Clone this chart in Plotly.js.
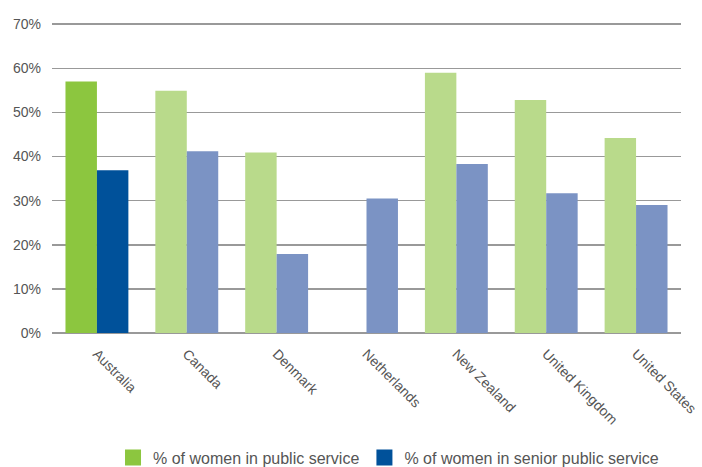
<!DOCTYPE html>
<html>
<head>
<meta charset="utf-8">
<script src="https://cdn.plot.ly/plotly-3.0.1.min.js"></script>
<style>
html,body{margin:0;padding:0;background:#fff;}
#chart{width:702px;height:467px;}
</style>
</head>
<body>
<div id="chart"></div>
<script>
const countries = ["Australia","Canada","Denmark","Netherlands","New Zealand","United Kingdom","United States"];
const publicService = [57, 54.9, 40.9, null, 59, 52.8, 44.2];
const seniorPublicService = [36.9, 41.2, 17.9, 30.5, 38.3, 31.7, 29.0];
const yTickVals = [0,10,20,30,40,50,60,70];
const yTickText = ["0%","10%","20%","30%","40%","50%","60%","70%"];
const seriesNames = ["% of women in public service","% of women in senior public service"];
const legendColors = ["#8cc63f","#00519a"];

const greenColors = countries.map((c,i)=> i===0 ? "#8cc63f" : "#b9da8b");
const blueColors = countries.map((c,i)=> i===0 ? "#00519a" : "#7b93c4");

const traces = [
  {type:"bar", x:countries, y:publicService, name:seriesNames[0], marker:{color:greenColors}, hoverinfo:"skip", showlegend:false},
  {type:"bar", x:countries, y:seniorPublicService, name:seriesNames[1], marker:{color:blueColors}, hoverinfo:"skip", showlegend:false},
  {type:"scatter", mode:"markers", x:[null], y:[null], name:seriesNames[0], marker:{symbol:"square", size:16, color:legendColors[0]}, showlegend:true},
  {type:"scatter", mode:"markers", x:[null], y:[null], name:seriesNames[1], marker:{symbol:"square", size:16, color:legendColors[1]}, showlegend:true}
];

const layout = {
  width:702, height:467,
  margin:{l:52, r:21, t:22, b:134},
  paper_bgcolor:"#fff", plot_bgcolor:"#fff",
  font:{family:"Liberation Sans, Arial, sans-serif", color:"#555", size:14},
  barmode:"group",
  bargap:0.3, bargroupgap:0,
  showlegend:true,
  legend:{orientation:"h", x:0.535, xanchor:"center", yref:"container", y:0.02, yanchor:"middle", font:{size:16, color:"#555"}, itemwidth:30, traceorder:"normal", itemsizing:"trace"},
  xaxis:{type:"category", automargin:false, tickangle:45, ticks:"", ticklabelstandoff:9, showgrid:false, showline:false, zeroline:false, tickfont:{size:14, color:"#555"}},
  yaxis:{range:[0,70.5], automargin:false, tickvals:yTickVals, ticktext:yTickText, showgrid:true, gridcolor:"#999", gridwidth:1.5, zeroline:true, zerolinecolor:"#999", zerolinewidth:1.5, showline:false, ticks:"", ticklabelstandoff:10, tickfont:{size:14, color:"#555"}}
};

Plotly.newPlot("chart", traces, layout, {displayModeBar:false, staticPlot:true});
</script>
</body>
</html>
